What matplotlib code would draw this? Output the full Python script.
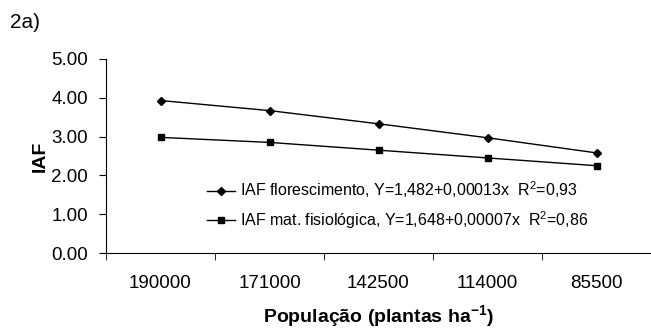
import numpy as np
import matplotlib
matplotlib.use("Agg")
import matplotlib.pyplot as plt

plt.rcParams['font.family'] = ['Liberation Sans', 'DejaVu Sans']
plt.rcParams['mathtext.fontset'] = 'custom'
plt.rcParams['mathtext.rm'] = 'Liberation Sans'
plt.rcParams['mathtext.bf'] = 'Liberation Sans:bold'

populacao = ['190000', '171000', '142500', '114000', '85500']
iaf_flor = [3.93, 3.67, 3.33, 2.97, 2.58]
iaf_mat = [2.98, 2.85, 2.65, 2.45, 2.25]

lab_flor = 'IAF florescimento, Y=1,482+0,00013x  R$^{\\mathrm{2}}$=0,93'
lab_mat = 'IAF mat. fisiológica, Y=1,648+0,00007x  R$^{\\mathrm{2}}$=0,86'

W, H = 651, 329
fig = plt.figure(figsize=(W / 100, H / 100), dpi=100)
ax = fig.add_axes([106 / W, 1 - 253 / H, (W - 106) / W, (253 - 59) / H])

x = np.arange(len(populacao))
ax.plot(x, iaf_flor, color='black', lw=1, marker='D', ms=4, label=lab_flor)
ax.plot(x, iaf_mat, color='black', lw=1, marker='s', ms=4, label=lab_mat)

ax.set_xlim(-0.5, len(populacao) - 0.5)
ax.set_ylim(0, 5)
yt = np.arange(0, 5.01, 1)
ax.set_yticks(yt)
ax.set_yticklabels(['%.2f' % v for v in yt], fontsize=13.5)
ax.set_xticks(x)
ax.set_xticklabels(populacao, fontsize=13.5)
ax.tick_params(axis='x', length=0, pad=16)
ax.set_xticks(np.arange(-0.5, len(populacao), 1), minor=True)
ax.tick_params(axis='x', which='minor', length=5, direction='out')
ax.tick_params(axis='y', length=5, direction='out', pad=8)

for s in ['top', 'right']:
    ax.spines[s].set_visible(False)

ax.set_ylabel('IAF', fontsize=14, fontweight='bold', labelpad=2)
ax.set_xlabel('População (plantas ha$^{\\mathbf{-1}}$)', fontsize=14, fontweight='bold', labelpad=8)

ax.legend(loc='center left', bbox_to_anchor=(207 / W, 1 - 205 / H), bbox_transform=fig.transFigure,
          frameon=False, fontsize=11.5, handlelength=1.75, handletextpad=0.3,
          labelspacing=0.55, borderpad=0, borderaxespad=0)

fig.text(10 / W, 1 - 13 / H, '2a)', fontsize=15, va='top')

fig.savefig('out.png', dpi=100)
